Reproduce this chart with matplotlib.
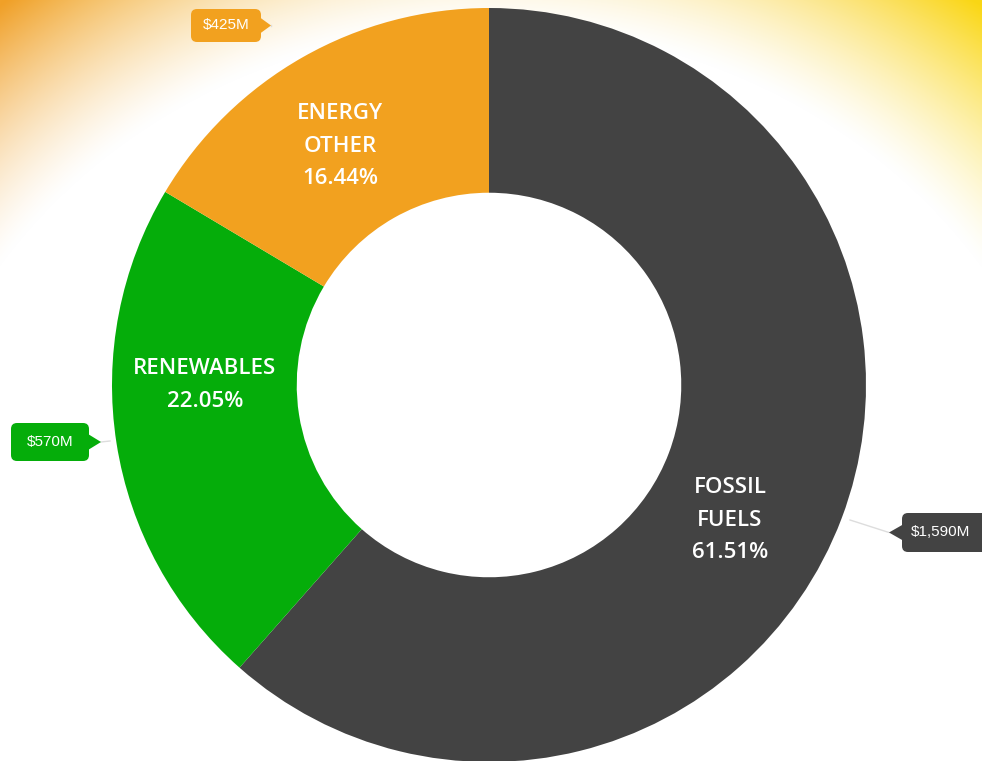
import matplotlib
matplotlib.use("Agg")
import matplotlib.pyplot as plt
import numpy as np
from matplotlib.patches import FancyBboxPatch, Polygon

# --- data ---
categories = ["FOSSIL\nFUELS", "RENEWABLES", "ENERGY\nOTHER"]
values = [1590, 570, 425]
value_labels = ["$1,590M", "$570M", "$425M"]
colors = ["#434343", "#05AD0A", "#F2A11F"]

W, H = 982, 761
fig = plt.figure(figsize=(W / 100, H / 100), dpi=100)
ax = fig.add_axes([0, 0, 1, 1])

# --- background swoosh (decoration) ---
yy, xx = np.mgrid[0:H, 0:W]
d = np.sqrt(((xx - 490) / 610.0) ** 2 + ((yy - 570) / 560.0) ** 2)
alpha = np.clip((d - 0.97) / 0.32, 0, 1) ** 1.3
t = (xx / W)[..., None]
left_col = np.array([240, 160, 40]) / 255.0
right_col = np.array([250, 215, 20]) / 255.0
col = left_col * (1 - t) + right_col * t
bg = np.ones((H, W, 3)) * (1 - alpha[..., None]) + col * alpha[..., None]
ax.imshow(bg, extent=[0, W, 0, H], origin="upper", zorder=0)

# --- donut ---
cx, cy, R = 489, H - 385, 377
total = sum(values)
wedges, _ = ax.pie(values, colors=colors, startangle=90, counterclock=False,
                   radius=R, center=(cx, cy), frame=True,
                   wedgeprops=dict(width=R * 0.49, edgecolor="none"))

font = "Open Sans"
label_pos = [(730, H - 520), (205, H - 385), (340, H - 146)]
for cat, v, (lx, ly) in zip(categories, values, label_pos):
    pct = v / total * 100
    ax.text(lx, ly, f"{cat}\n{pct:.2f}%", ha="center", va="center", color="white",
            fontsize=16, family=font, weight="semibold", linespacing=1.7, zorder=5)

# --- value badges ---
badges = [
    # (box x0, y0(top), w, h, pointer side, pointer tip x, line end x, line end y)
    (902, 513, 90, 39, "left", 889, 850, 520),
    (11, 423, 78, 38, "right", 101, 110, 441),
    (191, 9, 70, 33, "right", 271, 271, 25),
]
for (x0, y0, bw, bh, side, tip, lx, ly), txt, c in zip(badges, value_labels, colors):
    yb = H - y0 - bh
    ax.add_patch(FancyBboxPatch((x0, yb), bw, bh, boxstyle="round,pad=0,rounding_size=6",
                                fc=c, ec="none", zorder=6))
    ymid = yb + bh / 2
    if side == "left":
        tri = [(x0 + 1, ymid + 8), (tip, ymid), (x0 + 1, ymid - 8)]
    else:
        tri = [(x0 + bw - 1, ymid + 8), (tip, ymid), (x0 + bw - 1, ymid - 8)]
    ax.add_patch(Polygon(tri, closed=True, fc=c, ec="none", zorder=6))
    ax.plot([tip, lx], [ymid, H - ly], color="#dddddd", lw=1, zorder=4)
    ax.text(x0 + bw / 2 if side == "right" else x0 + 39, ymid, txt, ha="center", va="center",
            color="white", fontsize=11, family="Liberation Sans", zorder=7)

ax.set_xlim(0, W)
ax.set_ylim(0, H)
ax.set_aspect("equal")
ax.axis("off")

fig.savefig("out.png", dpi=100)
